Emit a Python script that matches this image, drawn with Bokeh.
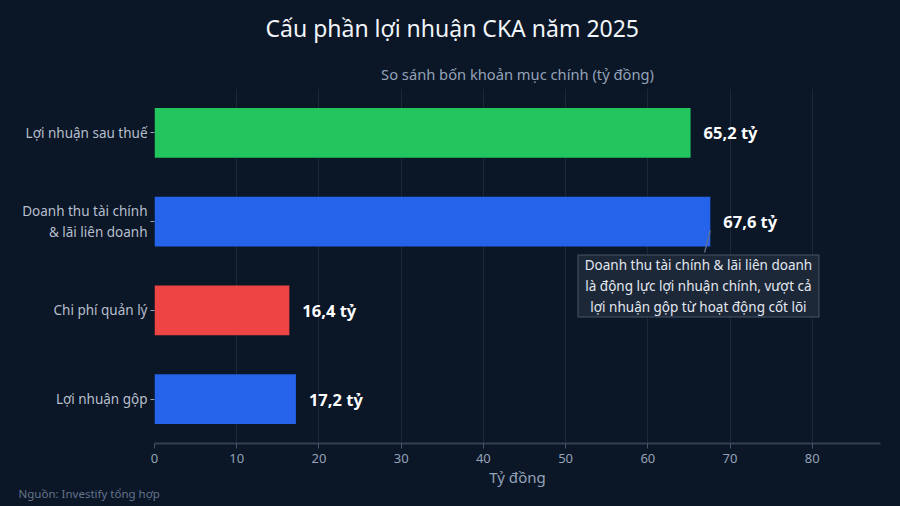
from bokeh.plotting import figure
from bokeh.models import ColumnDataSource, FactorRange, Label, Range1d, Title
from bokeh.core.properties import value
from bokeh.embed import file_html
from bokeh.resources import INLINE

# Data (top to bottom)
categories = ["Lợi nhuận sau thuế", "Doanh thu tài chính\n& lãi liên doanh", "Chi phí quản lý", "Lợi nhuận gộp"]
values = [65.2, 67.6, 16.4, 17.2]
value_labels = ["65,2 tỷ", "67,6 tỷ", "16,4 tỷ", "17,2 tỷ"]
colors = ["#22c55e", "#2563eb", "#ef4444", "#2563eb"]
x_ticks = [0, 10, 20, 30, 40, 50, 60, 70, 80]
title_text = "Cấu phần lợi nhuận CKA năm 2025"
subtitle_text = "So sánh bốn khoản mục chính (tỷ đồng)"
source_text = "Nguồn: Investify tổng hợp"
annotation_text = "Doanh thu tài chính & lãi liên doanh\nlà động lực lợi nhuận chính, vượt cả\nlợi nhuận gộp từ hoạt động cốt lõi"

BG = "#0b1627"
FONT = "Noto Sans"

W, H = 900, 506
FL, FR, FT, FB = 154, 880, 88, 443  # frame edges in pixels
XMAX = 88.3

src = ColumnDataSource(dict(cat=categories, val=values, lab=value_labels, col=colors))

p = figure(width=W, height=H, output_backend="svg", toolbar_location=None, tools="", title=None,
           y_range=FactorRange(*reversed(categories), range_padding=0),
           x_range=Range1d(0, XMAX),
           min_border_left=FL, min_border_right=W - FR, min_border_top=FT, min_border_bottom=H - FB)
p.background_fill_color = BG
p.border_fill_color = None  # page background shows through; avoids the SVG clearRect seam
p.outline_line_color = None

p.hbar(y="cat", right="val", left=0, height=0.56, color="col", line_color=None, source=src)
p.text(x="val", y="cat", text="lab", source=src, x_offset=13, text_baseline="middle",
       text_align="left", text_color="white", text_font=value(FONT),
       text_font_size="16.5px", text_font_style="bold")

# leader line and annotation box (box drawn as two filled rects: border + body)
ann_idx = 1
ann_x = values[ann_idx] - 1.44
ann_y = 1.775
p.line(x=[values[ann_idx] - 0.7, values[ann_idx]], y=[2.152, 2.4],
       line_color="#64748b", line_width=1.2)
p.rect(x=[ann_x], y=[ann_y], width=242, height=63, width_units="screen", height_units="screen",
       fill_color="#475569", line_color=None)
p.rect(x=[ann_x], y=[ann_y], width=240, height=61, width_units="screen", height_units="screen",
       fill_color="#1c2738", line_color=None)
p.add_layout(Label(x=ann_x, y=ann_y, text=annotation_text, text_align="center",
                   text_baseline="middle", text_color="#e2e8f0", text_font=FONT,
                   text_font_size="13.5px", text_line_height=1.15))

# titles
p.add_layout(Title(text=subtitle_text, align="center", text_font=FONT, text_font_size="14.7px",
                   text_font_style="normal", text_color="#94a3b8", standoff=9), "above")
p.add_layout(Title(text=title_text, align="left", offset=265 - FL, text_font=FONT,
                   text_font_size="23px", text_font_style="normal", text_color="#f1f5f9",
                   standoff=23, vertical_align="top"), "above")
p.add_layout(Title(text=source_text, align="left", offset=18 - FL, text_font=FONT,
                   text_font_size="11.5px", text_font_style="normal", text_color="#64748b",
                   standoff=-12), "below")

# axes
p.xaxis.ticker = x_ticks
p.xaxis.axis_label = "Tỷ đồng"
p.xaxis.axis_label_text_font = FONT
p.xaxis.axis_label_text_font_style = "normal"
p.xaxis.axis_label_text_font_size = "15px"
p.xaxis.axis_label_text_color = "#94a3b8"
p.xaxis.axis_label_standoff = 1
p.xaxis.major_label_text_font = FONT
p.xaxis.major_label_text_font_size = "13px"
p.xaxis.major_label_text_color = "#94a3b8"
p.xaxis.axis_line_color = "#334155"
p.xaxis.axis_line_width = 2
p.xaxis.major_tick_line_color = "#475569"
p.xaxis.major_tick_in = 0
p.xaxis.major_tick_out = 5
p.xaxis.minor_tick_line_color = None

p.yaxis.axis_line_color = None
p.yaxis.major_tick_line_color = "#94a3b8"
p.yaxis.major_tick_in = 0
p.yaxis.major_tick_out = 4
p.yaxis.major_label_text_font = FONT
p.yaxis.major_label_text_font_size = "13.5px"
p.yaxis.major_label_text_color = "#b6bfcc"
p.yaxis.major_label_standoff = 3

p.xgrid.grid_line_color = "#1c283a"
p.ygrid.grid_line_color = None

html = file_html(p, INLINE)
page_style = "<style>html, body { background: %s !important; }</style>" % BG
if "</head>" in html:
    html = html.replace("</head>", page_style + "</head>", 1)
else:
    html = page_style + html
html = html.replace("<body>", '<body style="background:%s">' % BG, 1)
open("out.html", "w").write(html)
